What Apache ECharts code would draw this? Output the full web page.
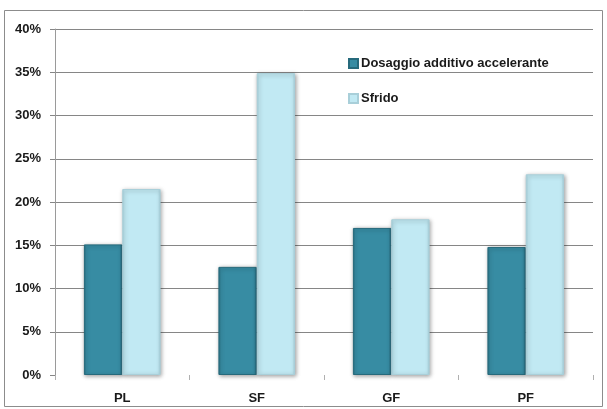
<!DOCTYPE html>
<html>
<head>
<meta charset="utf-8">
<style>
  html, body { margin: 0; padding: 0; background: #ffffff; }
  #chart { width: 607px; height: 409px; }
</style>
<script src="https://cdn.jsdelivr.net/npm/echarts@6/dist/echarts.min.js"></script>
</head>
<body>
<div id="chart"></div>
<script>
// Categories and values (fractions)
const categories = ['PL', 'SF', 'GF', 'PF'];
const dosaggio = [0.151, 0.125, 0.170, 0.148];
const sfrido = [0.215, 0.349, 0.180, 0.232];
const seriesNames = ['Dosaggio additivo accelerante', 'Sfrido'];

const chart = echarts.init(document.getElementById('chart'), null, { renderer: 'canvas' });

function barFill(edge, mid) {
  return new echarts.graphic.LinearGradient(0, 0, 1, 0, [
    { offset: 0, color: edge },
    { offset: 0.07, color: mid },
    { offset: 0.93, color: mid },
    { offset: 1, color: edge }
  ]);
}

// first split line (at 0%) is not drawn
const gridColors = ['rgba(0,0,0,0)'];
for (let i = 0; i < 8; i++) gridColors.push('#868686');

chart.setOption({
  animation: false,
  backgroundColor: '#ffffff',
  textStyle: { fontFamily: 'Liberation Sans, Arial, sans-serif' },
  graphic: [{
    type: 'rect',
    shape: { x: 4.5, y: 10.5, width: 598, height: 396 },
    style: { fill: 'none', stroke: '#8c8c8c', lineWidth: 1 },
    silent: true,
    z: -1
  }],
  grid: { left: 55, right: 14, top: 29, bottom: 34 },
  legend: {
    orient: 'vertical',
    left: 343,
    top: 52,
    itemGap: 22,
    itemWidth: 9,
    itemHeight: 9,
    icon: 'rect',
    textStyle: { fontSize: 13, fontWeight: 'bold', color: '#1a1a1a', padding: [0, 0, 0, -2] },
    data: seriesNames
  },
  xAxis: {
    type: 'category',
    data: categories,
    axisLine: { show: false },
    axisTick: { show: true, length: 5, lineStyle: { color: '#b0b0b0' } },
    axisLabel: { fontSize: 13, fontWeight: 'bold', color: '#1a1a1a', margin: 17 }
  },
  yAxis: {
    type: 'value',
    min: 0,
    max: 0.4,
    interval: 0.05,
    axisLine: { show: true, lineStyle: { color: '#9a9a9a' } },
    axisTick: { show: true, length: 5, lineStyle: { color: '#868686' } },
    splitLine: { show: true, lineStyle: { color: gridColors } },
    axisLabel: {
      fontSize: 13, fontWeight: 'bold', color: '#1a1a1a', margin: 14,
      formatter: v => Math.round(v * 100) + '%'
    }
  },
  series: [
    {
      name: seriesNames[0],
      type: 'bar',
      data: dosaggio,
      barGap: '0%',
      barCategoryGap: '43%',
      itemStyle: {
        color: barFill('#2a6f82', '#378ca3'),
        borderColor: '#266a7c',
        borderWidth: 1,
        shadowColor: 'rgba(0,0,0,0.35)',
        shadowBlur: 4,
        shadowOffsetX: 1,
        shadowOffsetY: 1
      }
    },
    {
      name: seriesNames[1],
      type: 'bar',
      data: sfrido,
      itemStyle: {
        color: barFill('#a8d2dd', '#c1e9f3'),
        borderColor: '#a9cfd9',
        borderWidth: 1,
        shadowColor: 'rgba(0,0,0,0.35)',
        shadowBlur: 4,
        shadowOffsetX: 1,
        shadowOffsetY: 1
      }
    }
  ]
});
</script>
</body>
</html>
